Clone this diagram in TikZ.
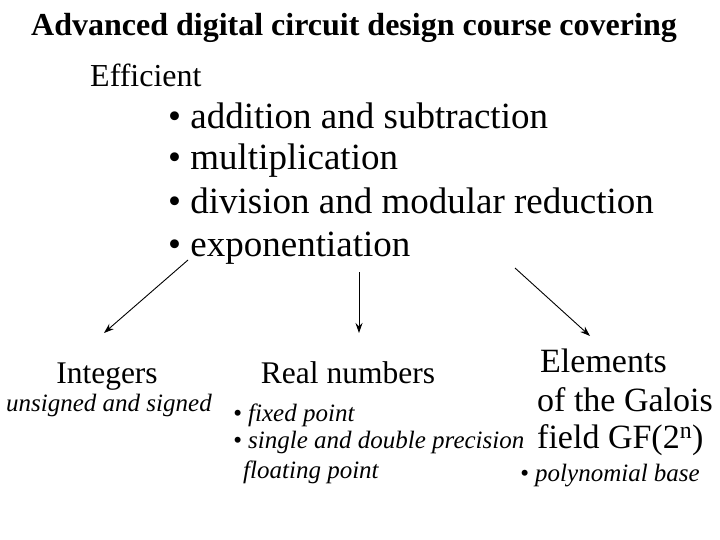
\documentclass[tikz,border=0pt]{standalone}
\usepackage{fontspec}
\setmainfont{Liberation Serif}
\usetikzlibrary{arrows.meta}
\tikzset{
  lbl/.style={anchor=base west,inner sep=0pt},
  big/.style={lbl,font=\fontsize{37}{40}\selectfont},
  mid/.style={font=\fontsize{31.5}{34}\selectfont,inner sep=0pt,anchor=base},
  ital/.style={lbl,font=\fontsize{25}{28}\selectfont\itshape},
  gal/.style={lbl,font=\fontsize{34}{37}\selectfont},
  arr/.style={-{Stealth[length=10pt,width=7pt]},line width=0.9pt}
}
\begin{document}
\begin{tikzpicture}[x=1pt,y=-1pt]
\useasboundingbox (0,0) rectangle (720,540);
\node[mid,font=\fontsize{32}{35}\selectfont\bfseries] (t) at (354,36) {Advanced digital circuit design course covering};
\node[lbl,font=\fontsize{32}{35}\selectfont] (e) at (90,87) {Efficient};
\node[big] (b1) at (168,129) {• addition and subtraction};
\node[big] (b2) at (168,170) {• multiplication};
\node[big] (b3) at (168,214) {• division and modular reduction};
\node[big] (b4) at (168,256) {• exponentiation};
\coordinate (s1) at (188,260);
\coordinate (s2) at (359,272);
\coordinate (s3) at (515,268);
\node[mid] (int) at (107,383) {Integers};
\node[ital] (us) at (6,411) {unsigned and signed};
\node[mid] (real) at (348,383) {Real numbers};
\node[ital] (f1) at (233,421) {• fixed point};
\node[ital] (f2) at (233,448) {• single and double precision};
\node[ital] (f3) at (243,478) {floating point};
\node[gal] (g1) at (540,372) {Elements};
\node[gal] (g2) at (537,411) {of the Galois};
\node[gal] (g3) at (537,448) {field GF(2\textsuperscript{n})};
\node[ital] (g4) at (520,481) {• polynomial base};
\draw[arr] (s1) -- (104,333);
\draw[arr] (s2) -- (359,333);
\draw[arr] (s3) -- (590,336);
\end{tikzpicture}
\end{document}
